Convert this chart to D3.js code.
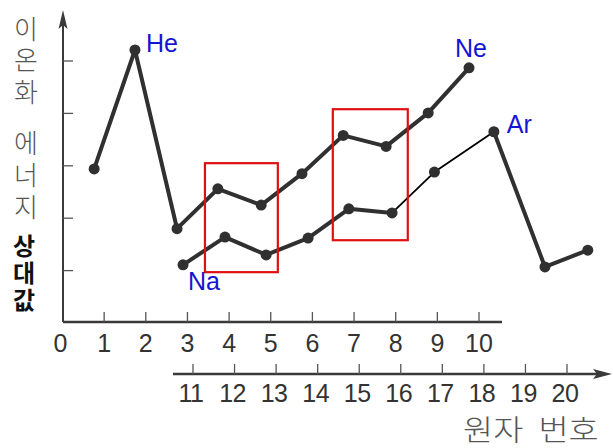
<!DOCTYPE html>
<html>
<head>
<meta charset="utf-8">
<script src="https://cdn.jsdelivr.net/npm/d3@7"></script>
<style>
  html, body { margin: 0; padding: 0; background: #fff; }
  svg { display: block; }
  .vert { writing-mode: vertical-rl; text-orientation: upright; }
</style>
</head>
<body>
<svg id="chart" width="613" height="448"></svg>
<script>
// Atomic numbers on the two number lines
const upperTicks = [0, 1, 2, 3, 4, 5, 6, 7, 8, 9, 10];
const lowerTicks = [11, 12, 13, 14, 15, 16, 17, 18, 19, 20];
const energyTicks = [1, 2, 3, 4, 5];

// Period 1–2 elements: where each point sits on the upper number line, and its relative ionization energy
const upperNames = ["H", "He", "Li", "Be", "B", "C", "N", "O", "F", "Ne"];
const upperAt = [0.76, 1.74, 2.75, 3.73, 4.77, 5.75, 6.74, 7.77, 8.78, 9.76];
const upperEnergy = [2.94, 5.21, 1.80, 2.56, 2.25, 2.85, 3.58, 3.37, 4.01, 4.87];

// Period 3–4 elements: position on the lower number line and relative ionization energy
const lowerNames = ["Na", "Mg", "Al", "Si", "P", "S", "Cl", "Ar", "K", "Ca"];
const lowerAt = [10.76, 11.77, 12.76, 13.77, 14.75, 15.79, 16.81, 18.24, 19.47, 20.50];
const lowerEnergy = [1.11, 1.64, 1.30, 1.62, 2.18, 2.10, 2.88, 3.65, 1.07, 1.39];

// Highlighted ranges (upper number line units / energy units)
const boxSpanX = [[3.42, 5.17], [6.49, 8.29]];
const boxSpanY = [[0.97, 3.05], [1.58, 4.08]];

// Labelled elements
const namedElements = ["He", "Ne", "Na", "Ar"];

const svg = d3.select("#chart");

const xTop = d3.scaleLinear().domain([0, 10]).range([62.5, 479]);
const xBot = d3.scaleLinear().domain([11, 20]).range([193, 567]);
const y = d3.scaleLinear().domain([0, 5]).range([323, 61]);

const axisColor = "#3a3a3a";
const tickColor = "#555";
const markColor = "#303030";

// ---- y axis with arrow ----
const yAxisX = 63, yAxisBottom = 322, yTip = 10;
svg.append("line")
  .attr("x1", yAxisX).attr("x2", yAxisX)
  .attr("y1", yAxisBottom).attr("y2", yTip + 12)
  .attr("stroke", axisColor).attr("stroke-width", 2);
svg.append("path")
  .attr("d", `M${yAxisX},${yTip} L${yAxisX + 4.5},${yTip + 19} L${yAxisX},${yTip + 15} L${yAxisX - 4.5},${yTip + 19} Z`)
  .attr("fill", axisColor);
svg.append("g").selectAll("line").data(energyTicks).join("line")
  .attr("x1", yAxisX).attr("x2", yAxisX + 10)
  .attr("y1", d => y(d)).attr("y2", d => y(d))
  .attr("stroke", tickColor).attr("stroke-width", 1.3);

// ---- upper number line (0–10) ----
const topAxisY = 322;
svg.append("line")
  .attr("x1", yAxisX).attr("x2", 502)
  .attr("y1", topAxisY).attr("y2", topAxisY)
  .attr("stroke", axisColor).attr("stroke-width", 2.6);
svg.append("g").selectAll("line").data(upperTicks.filter(d => d > 0)).join("line")
  .attr("x1", d => xTop(d)).attr("x2", d => xTop(d))
  .attr("y1", topAxisY - 10).attr("y2", topAxisY)
  .attr("stroke", tickColor).attr("stroke-width", 1.3);
svg.append("g").selectAll("text").data(upperTicks).join("text")
  .attr("x", d => xTop(d) - (d === 0 ? 2 : 0))
  .attr("y", 352)
  .attr("text-anchor", "middle")
  .attr("font-family", "Liberation Sans, Arial, sans-serif")
  .attr("font-size", 25)
  .attr("fill", "#333")
  .text(d => d);

// ---- lower number line (11–20) with arrow ----
const botAxisY = 374, botTip = 612;
svg.append("line")
  .attr("x1", 173).attr("x2", botTip - 12)
  .attr("y1", botAxisY).attr("y2", botAxisY)
  .attr("stroke", axisColor).attr("stroke-width", 2.4);
svg.append("path")
  .attr("d", `M${botTip},${botAxisY} L${botTip - 19},${botAxisY - 5} L${botTip - 15},${botAxisY} L${botTip - 19},${botAxisY + 5} Z`)
  .attr("fill", axisColor);
svg.append("g").selectAll("line").data(lowerTicks).join("line")
  .attr("x1", d => xBot(d)).attr("x2", d => xBot(d))
  .attr("y1", botAxisY - 10).attr("y2", botAxisY)
  .attr("stroke", tickColor).attr("stroke-width", 1.3);
svg.append("g").selectAll("text").data(lowerTicks).join("text")
  .attr("x", d => xBot(d) - 2)
  .attr("y", 402)
  .attr("text-anchor", "middle")
  .attr("font-family", "Liberation Sans, Arial, sans-serif")
  .attr("font-size", 25)
  .attr("letter-spacing", -0.5)
  .attr("fill", "#333")
  .text(d => d);

// ---- axis titles ----
// x title, slightly widened glyphs
svg.append("text")
  .attr("transform", "translate(463,441) scale(1.13,1)")
  .attr("x", 0).attr("y", 0)
  .attr("font-family", "Noto Sans CJK KR, sans-serif")
  .attr("font-weight", 300)
  .attr("font-size", 29)
  .attr("word-spacing", 7)
  .attr("fill", "#555")
  .text("원자 번호");

// vertical title: 이온화 / 에너지 (light), 상대값 (bold)
const titleWords = [
  { text: "이온화", top: 16, size: 26, gap: 5.5, weight: 300, fill: "#555", x: 26 },
  { text: "에너지", top: 130, size: 26, gap: 6, weight: 300, fill: "#555", x: 26 },
  { text: "상대값", top: 234, size: 24, gap: 3, weight: 700, fill: "#111", x: 24 }
];
svg.append("g").selectAll("text").data(titleWords).join("text")
  .attr("class", "vert")
  .attr("x", d => d.x).attr("y", d => d.top)
  .attr("font-family", "Noto Sans CJK KR, sans-serif")
  .attr("font-weight", d => d.weight)
  .attr("font-size", d => d.size)
  .attr("letter-spacing", d => d.gap)
  .attr("fill", d => d.fill)
  .text(d => d.text);

// ---- series ----
const upperPts = upperNames.map((n, i) => ({ name: n, x: xTop(upperAt[i]), y: y(upperEnergy[i]) }));
const lowerPts = lowerNames.map((n, i) => ({ name: n, x: xBot(lowerAt[i]), y: y(lowerEnergy[i]) }));

const line = d3.line().x(d => d.x).y(d => d.y);

svg.append("path")
  .datum(upperPts)
  .attr("d", line)
  .attr("fill", "none")
  .attr("stroke", markColor)
  .attr("stroke-width", 4)
  .attr("stroke-linejoin", "round");

// the lower series is drawn thick except for the thin S–Cl–Ar stretch
const lowerSegments = d3.pairs(lowerPts);
svg.append("g").selectAll("line").data(lowerSegments).join("line")
  .attr("x1", d => d[0].x).attr("y1", d => d[0].y)
  .attr("x2", d => d[1].x).attr("y2", d => d[1].y)
  .attr("stroke", (d, i) => (i === 5 || i === 6) ? "#000" : markColor)
  .attr("stroke-width", (d, i) => (i === 5 || i === 6) ? 1.8 : 4)
  .attr("stroke-linecap", "round");

svg.append("g").selectAll("circle").data(upperPts.concat(lowerPts)).join("circle")
  .attr("cx", d => d.x).attr("cy", d => d.y)
  .attr("r", 5.5)
  .attr("fill", markColor);

// ---- highlight boxes ----
svg.append("g").selectAll("rect").data(boxSpanX.map((s, i) => ({ sx: s, sy: boxSpanY[i] }))).join("rect")
  .attr("x", d => xTop(d.sx[0]))
  .attr("y", d => y(d.sy[1]))
  .attr("width", d => xTop(d.sx[1]) - xTop(d.sx[0]))
  .attr("height", d => y(d.sy[0]) - y(d.sy[1]))
  .attr("fill", "none")
  .attr("stroke", "#e01010")
  .attr("stroke-width", 2.2);

// ---- element labels ----
const labelOffset = { He: [11, 2], Ne: [-14, -11], Na: [5, 25], Ar: [13, 1] };
const allPts = upperPts.concat(lowerPts);
svg.append("g").selectAll("text")
  .data(allPts.filter(p => namedElements.includes(p.name)))
  .join("text")
  .attr("x", d => d.x + labelOffset[d.name][0])
  .attr("y", d => d.y + labelOffset[d.name][1])
  .attr("font-family", "Liberation Sans, Arial, sans-serif")
  .attr("font-size", 25)
  .attr("fill", "#1414d2")
  .text(d => d.name);
</script>
</body>
</html>
